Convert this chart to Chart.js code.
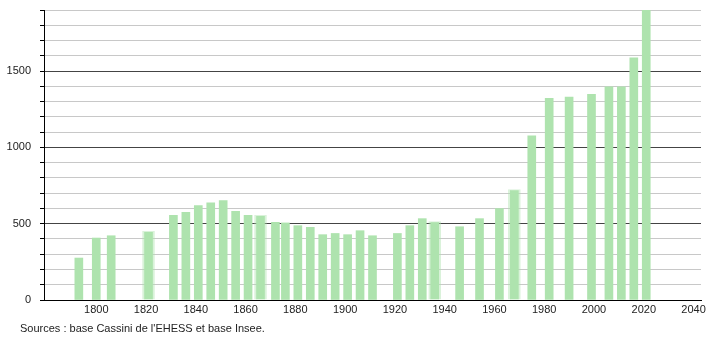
<!DOCTYPE html>
<html>
<head>
<meta charset="utf-8">
<script src="https://cdn.jsdelivr.net/npm/chart.js@4/dist/chart.umd.min.js"></script>
<style>
  body { margin: 0; background: #fff; }
  #wrap { position: relative; width: 710px; height: 340px; }
  #source {
    position: absolute; left: 20px; top: 322px;
    font: 11px "Liberation Sans", Arial, sans-serif; color: #222;
  }
</style>
</head>
<body>
<div id="wrap">
  <canvas id="popchart" width="710" height="340"></canvas>
  <div id="source">Sources : base Cassini de l'EHESS et base Insee.</div>
</div>
<script>
// census years and population
var years = [1793, 1800, 1806, 1821, 1831, 1836, 1841, 1846, 1851, 1856, 1861, 1866,
  1872, 1876, 1881, 1886, 1891, 1896, 1901, 1906, 1911, 1921, 1926, 1931, 1936,
  1946, 1954, 1962, 1968, 1975, 1982, 1990, 1999, 2006, 2011, 2016, 2021];
var population = [275, 406, 421, 450, 555, 575, 618, 636, 651, 581, 555, 555,
  509, 505, 487, 476, 428, 436, 428, 454, 421, 436, 487, 533, 513,
  480, 533, 599, 724, 1075, 1321, 1329, 1347, 1397, 1397, 1586, 1902];
// years drawn with a soft (blurred) edge in the original
var blurredYears = [1821, 1866, 1936, 1968];

var xTicks = [1800, 1820, 1840, 1860, 1880, 1900, 1920, 1940, 1960, 1980, 2000, 2020, 2040];
var yGrid = [0, 100, 200, 300, 400, 500, 600, 700, 800, 900, 1000,
  1100, 1200, 1300, 1400, 1500, 1600, 1700, 1800, 1900];
var yLabels = [0, 500, 1000, 1500];

var barGreen = "#aee3ae";
var font = { family: "'Liberation Sans', Arial, sans-serif", size: 11 };

var sharpBars = [], softBars = [];
years.forEach(function (y, i) {
  var pt = { x: y, y: population[i] };
  if (blurredYears.indexOf(y) >= 0) softBars.push(pt);
  else sharpBars.push(pt);
});

var ctx = document.getElementById("popchart").getContext("2d");

new Chart(ctx, {
  type: "bar",
  data: {
    datasets: [
      {
        label: "Population",
        data: sharpBars,
        backgroundColor: barGreen,
        barThickness: 8,
      },
      {
        label: "Population (estimation)",
        data: softBars,
        backgroundColor: barGreen,
        borderColor: "rgba(174,227,174,0.45)",
        borderWidth: { left: 2, right: 2, top: 1, bottom: 0 },
        borderSkipped: false,
        barThickness: 12,
      },
    ],
  },
  options: {
    responsive: false,
    animation: false,
    devicePixelRatio: 1,
    datasets: { bar: { grouped: false } },
    layout: { padding: { top: 10, right: 9, left: 0, bottom: 0 } },
    plugins: { legend: { display: false }, tooltip: { enabled: false } },
    scales: {
      x: {
        type: "linear",
        offset: false,
        min: 1779,
        max: 2043,
        afterBuildTicks: function (s) {
          s.ticks = xTicks.map(function (v) { return { value: v }; });
        },
        ticks: {
          color: "#222",
          font: font,
          padding: 3,
          maxRotation: 0,
          autoSkip: false,
          callback: function (v) { return String(v); },
        },
        grid: { display: false, drawTicks: false },
        border: { color: "#000", width: 1 },
        afterFit: function (s) {
          s.height = 40;
          s.paddingLeft = 0;
          s.paddingRight = 0;
        },
      },
      y: {
        min: 0,
        max: 1900,
        afterBuildTicks: function (s) {
          s.ticks = yGrid.map(function (v) { return { value: v }; });
        },
        ticks: {
          color: "#222",
          font: font,
          padding: 9,
          autoSkip: false,
          callback: function (v) {
            return yLabels.indexOf(v) >= 0 ? String(v) : "";
          },
        },
        grid: {
          color: function (c) {
            return c.tick && c.tick.value % 500 === 0 ? "#444" : "#c8c8c8";
          },
          tickColor: "#000",
          tickLength: 4,
        },
        border: { color: "#000", width: 1 },
        afterFit: function (s) {
          s.width = 44;
          s.paddingTop = 0;
          s.paddingBottom = 0;
        },
      },
    },
  },
});
</script>
</body>
</html>
